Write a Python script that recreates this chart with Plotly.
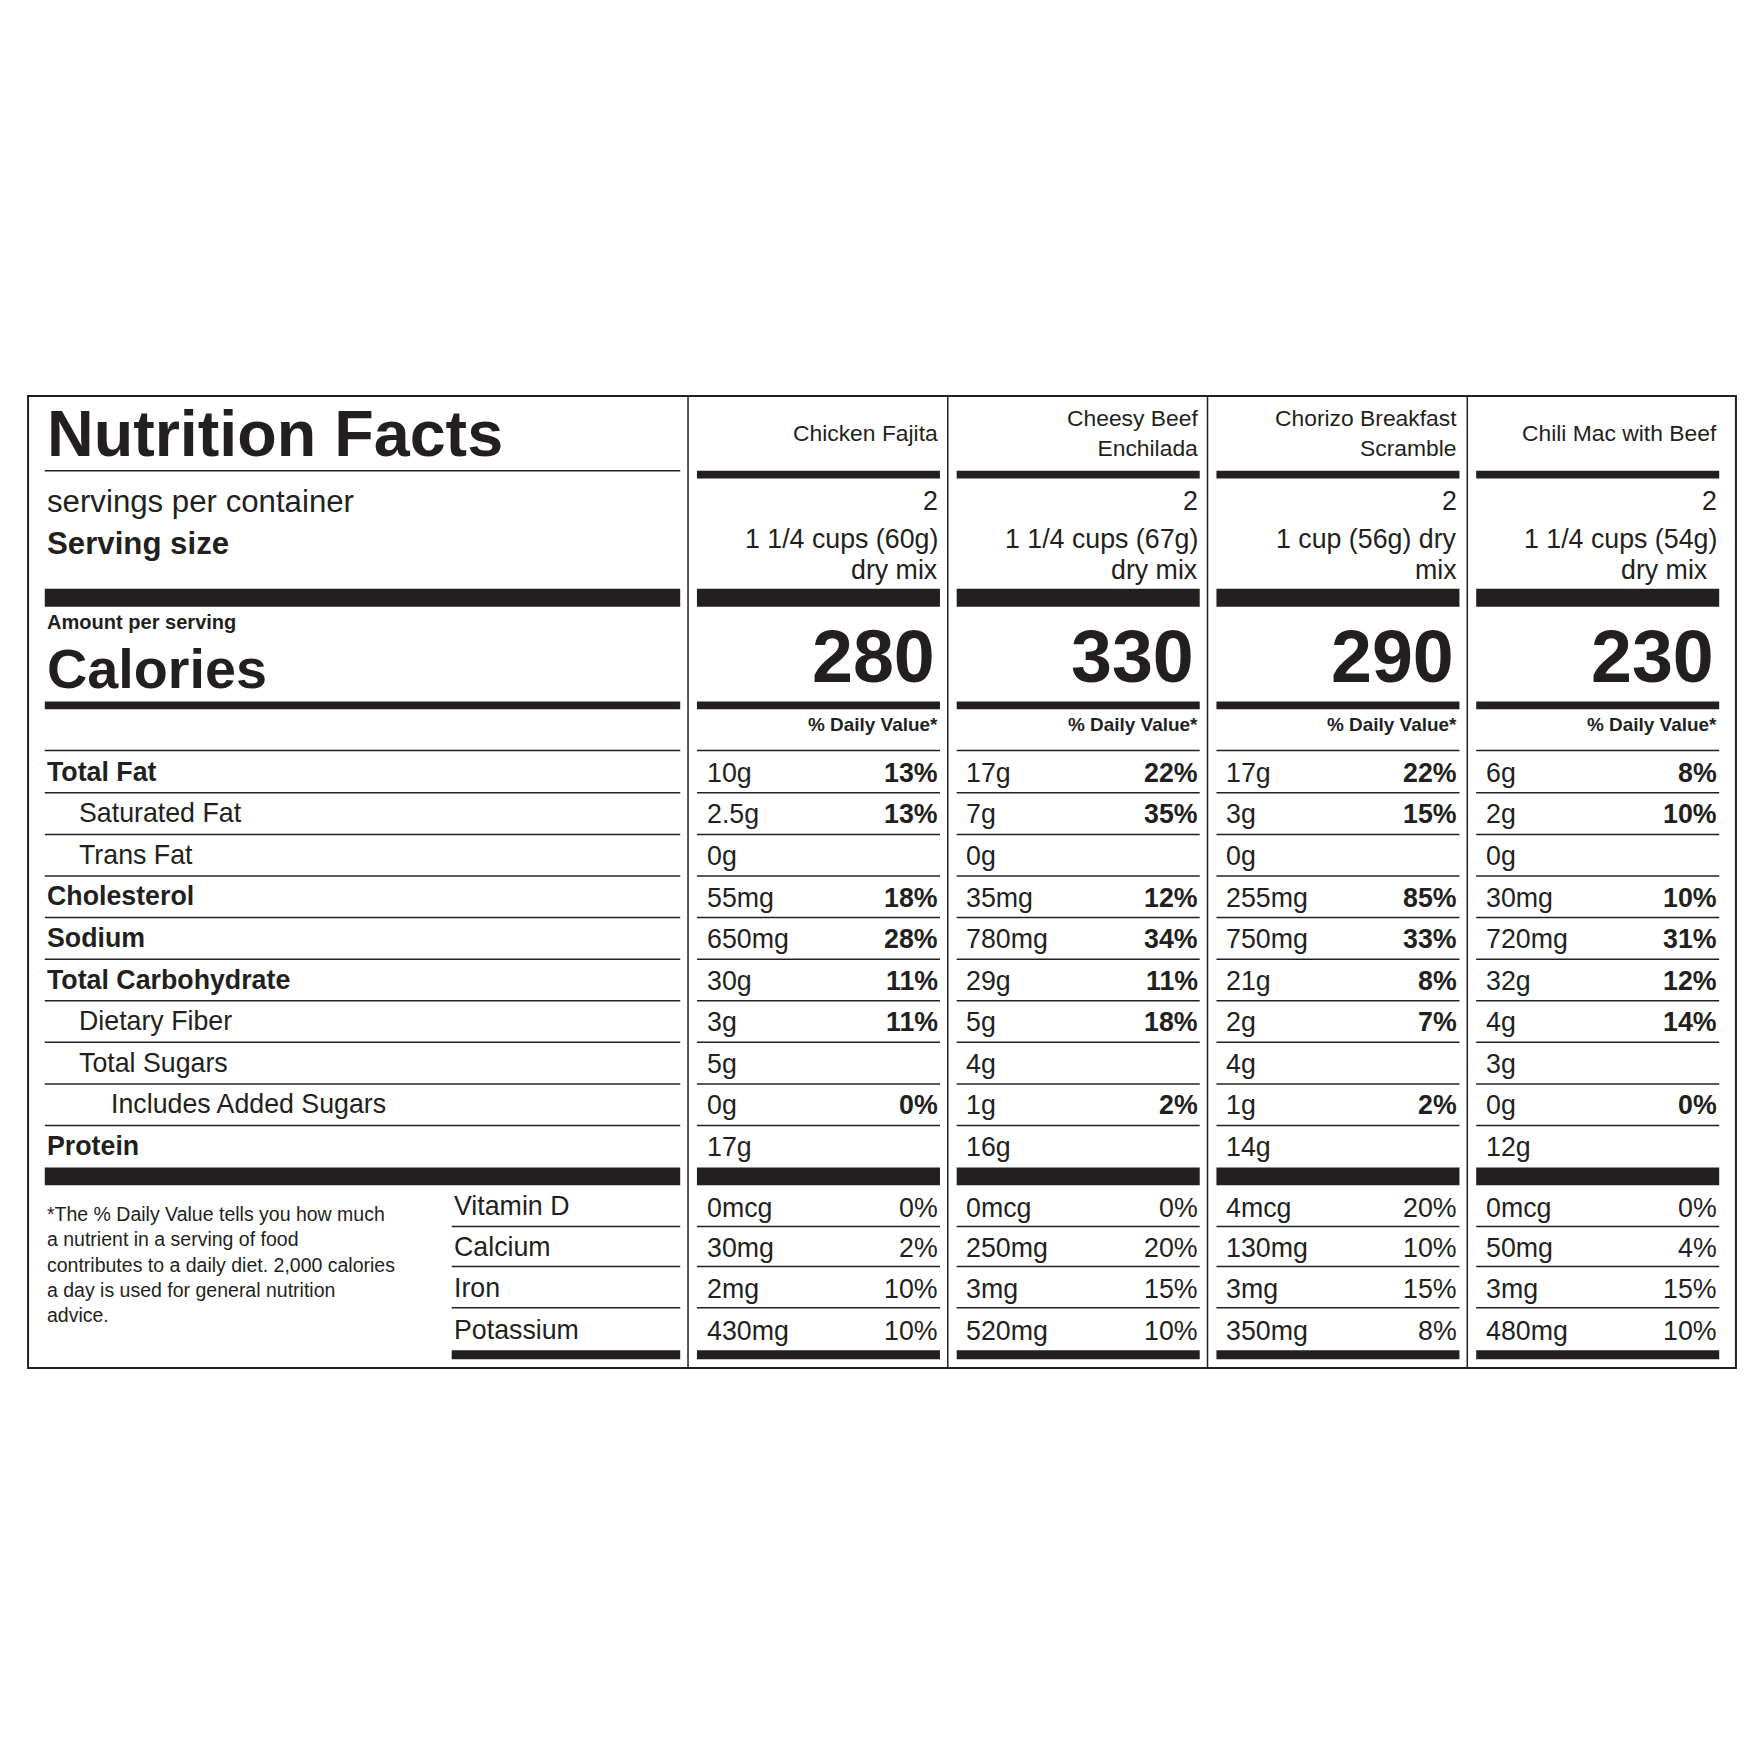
import plotly.graph_objects as go

products = ["Chicken Fajita", "Cheesy Beef<br>Enchilada", "Chorizo Breakfast<br>Scramble", "Chili Mac with Beef"]
servings = ["2", "2", "2", "2"]
serving_size = [["1 1/4 cups (60g)", "dry mix"], ["1 1/4 cups (67g)", "dry mix"],
                ["1 cup (56g) dry", "mix"], ["1 1/4 cups (54g)", "dry mix"]]
calories = ["280", "330", "290", "230"]
nutrients = ["Total Fat", "Saturated Fat", "Trans Fat", "Cholesterol", "Sodium",
             "Total Carbohydrate", "Dietary Fiber", "Total Sugars", "Includes Added Sugars", "Protein"]
nutrient_bold = [True, False, False, True, True, True, False, False, False, True]
nutrient_indent = [0, 1, 1, 0, 0, 0, 1, 1, 2, 0]
amounts = [
    ["10g", "2.5g", "0g", "55mg", "650mg", "30g", "3g", "5g", "0g", "17g"],
    ["17g", "7g", "0g", "35mg", "780mg", "29g", "5g", "4g", "1g", "16g"],
    ["17g", "3g", "0g", "255mg", "750mg", "21g", "2g", "4g", "1g", "14g"],
    ["6g", "2g", "0g", "30mg", "720mg", "32g", "4g", "3g", "0g", "12g"],
]
dvs = [
    ["13%", "13%", "", "18%", "28%", "11%", "11%", "", "0%", ""],
    ["22%", "35%", "", "12%", "34%", "11%", "18%", "", "2%", ""],
    ["22%", "15%", "", "85%", "33%", "8%", "7%", "", "2%", ""],
    ["8%", "10%", "", "10%", "31%", "12%", "14%", "", "0%", ""],
]
vitamins = ["Vitamin D", "Calcium", "Iron", "Potassium"]
vit_amounts = [
    ["0mcg", "30mg", "2mg", "430mg"],
    ["0mcg", "250mg", "3mg", "520mg"],
    ["4mcg", "130mg", "3mg", "350mg"],
    ["0mcg", "50mg", "3mg", "480mg"],
]
vit_dvs = [
    ["0%", "2%", "10%", "10%"],
    ["0%", "20%", "15%", "10%"],
    ["20%", "10%", "15%", "8%"],
    ["0%", "4%", "15%", "10%"],
]
footnote = ("*The % Daily Value tells you how much<br>a nutrient in a serving of food<br>"
            "contributes to a daily diet. 2,000 calories<br>a day is used for general nutrition<br>advice.")

S = 1748 / 1568
F = "Liberation Sans, Arial, sans-serif"
shapes, ann = [], []

def rect(x0, x1, y0, y1, fill="#231f20", lw=0, lc="#231f20"):
    shapes.append(dict(type="rect", xref="x", yref="y", x0=x0, x1=x1, y0=y0, y1=y1,
                       fillcolor=fill, line=dict(width=lw, color=lc)))

def hline(x0, x1, y, w=1.5):
    shapes.append(dict(type="line", xref="x", yref="y", x0=x0, x1=x1, y0=y, y1=y,
                       line=dict(color="#231f20", width=w)))

def text(x, y, t, size, anchor="left", bold=False, va="middle", align=None):
    ann.append(dict(x=x, y=y, xref="x", yref="y", text=f"<b>{t}</b>" if bold else t,
                    showarrow=False, xanchor=anchor, yanchor=va, align=align or anchor,
                    font=dict(family=F, size=size * S, color="#231f20")))

# outer box and column dividers
rect(18, 1550, 348, 1220, fill="rgba(0,0,0,0)", lw=2)
for x in [610, 843, 1076, 1309]:
    shapes.append(dict(type="line", xref="x", yref="y", x0=x, x1=x, y0=348, y1=1220,
                       line=dict(color="#231f20", width=1.5)))

cols = [(618, 836), (851, 1069), (1084, 1302), (1317, 1535)]
rows_y = [685 + i * 37.3 for i in range(10)]
vit_y = [1075, 1111, 1148, 1186]

# left panel
text(33, 382, "Nutrition Facts", 58, bold=True)
hline(33, 603, 415)
text(33, 443, "servings per container", 28)
text(33, 480, "Serving size", 28, bold=True)
rect(33, 603, 521, 537)
text(33, 551, "Amount per serving", 18, bold=True)
text(33, 593, "Calories", 50, bold=True)
rect(33, 603, 622, 629)
hline(33, 603, 666)
for i, n in enumerate(nutrients):
    text(33 + 29 * nutrient_indent[i], rows_y[i], n, 24, bold=nutrient_bold[i])
    if i < 9:
        hline(33, 603, rows_y[i] + 19)
rect(33, 603, 1040, 1056)
text(33, 1070, footnote, 17.5, va="top")
for j, v in enumerate(vitamins):
    text(398, vit_y[j], v, 24)
    if j < 3:
        hline(398, 603, vit_y[j] + 18)
rect(398, 603, 1204, 1212)

for c, (x0, x1) in enumerate(cols):
    text(x1, 381, products[c], 20.5, anchor="right")
    rect(x0, x1, 415, 422)
    text(x1, 442, servings[c], 24, anchor="right")
    text(x1, 476, serving_size[c][0], 24, anchor="right")
    text(x1 - (8 if c == 3 else 0), 504, serving_size[c][1], 24, anchor="right")
    rect(x0, x1, 521, 537)
    text(x1 - 3, 582, calories[c], 66, anchor="right", bold=True)
    rect(x0, x1, 622, 629)
    text(x1, 643, "% Daily Value*", 17, anchor="right", bold=True)
    hline(x0, x1, 666)
    for i in range(10):
        text(x0 + 7, rows_y[i] + 1, amounts[c][i], 24)
        if dvs[c][i]:
            text(x1, rows_y[i] + 1, dvs[c][i], 24, anchor="right", bold=True)
        if i < 9:
            hline(x0, x1, rows_y[i] + 19)
    rect(x0, x1, 1040, 1056)
    for j in range(4):
        text(x0 + 7, vit_y[j] + 1, vit_amounts[c][j], 24)
        text(x1, vit_y[j] + 1, vit_dvs[c][j], 24, anchor="right")
        if j < 3:
            hline(x0, x1, vit_y[j] + 18)
    rect(x0, x1, 1204, 1212)

fig = go.Figure()
fig.update_layout(width=1748, height=1748, margin=dict(l=0, r=0, t=0, b=0),
                  paper_bgcolor="white", plot_bgcolor="white", shapes=shapes, annotations=ann,
                  xaxis=dict(range=[0, 1568], visible=False, fixedrange=True),
                  yaxis=dict(range=[1568, 0], visible=False, fixedrange=True),
                  showlegend=False)
fig.write_html("out.html")
